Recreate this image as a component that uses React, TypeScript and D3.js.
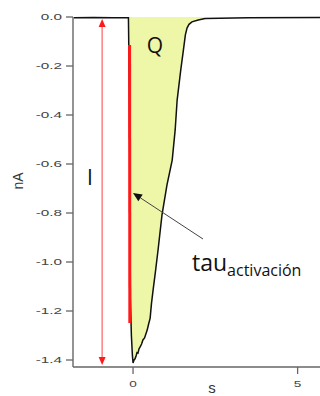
import React from "react";
import * as d3 from "d3";

// ---- data ----
const timeS = [
  -1.8, -1.2, -0.6, -0.14, -0.13, -0.115, -0.1, -0.09, -0.08, -0.05, -0.02, 0.0,
  0.03, 0.06, 0.09, 0.12, 0.15, 0.18, 0.22, 0.26, 0.3, 0.35, 0.4, 0.43, 0.47,
  0.52, 0.56, 0.61, 0.68, 0.76, 0.88, 1.03, 1.19, 1.28, 1.34, 1.45, 1.53,
  1.59, 1.64, 1.7, 1.79, 1.98, 2.19, 3.5, 5.68,
];
const currentNA = [
  -0.003, -0.002, -0.003, -0.003, -0.11, -0.3, -0.6, -0.9, -1.15, -1.3, -1.38, -1.412,
  -1.40, -1.395, -1.385, -1.37, -1.372, -1.355, -1.345, -1.335, -1.318, -1.31, -1.29, -1.278, -1.255,
  -1.229, -1.17, -1.114, -1.04, -0.951, -0.808, -0.686, -0.584, -0.461, -0.339, -0.216, -0.135,
  -0.073, -0.045, -0.03, -0.02, -0.012, -0.006, -0.003, -0.002,
];
// fitted activation (red) segment
const tauTime = [-0.105, -0.098];
const tauValue = [-0.114, -1.249];
// peak current marker (I arrow)
const arrowTime = -0.94;
const arrowRange = [-0.008, -1.42];

const yTicks = [0, -0.2, -0.4, -0.6, -0.8, -1.0, -1.2, -1.4];
const yTickLabels = ["0.0", "-0.2", "-0.4", "-0.6", "-0.8", "-1.0", "-1.2", "-1.4"];
const xTicks = [0, 5];
const xTickLabels = ["0", "5"];

export default function App() {
  const W = 320;
  const H = 396;
  const x = d3.scaleLinear().domain([-1.824, 5.68]).range([73, 320]);
  const y = d3.scaleLinear().domain([0, -1.4]).range([17, 360]);
  const axisY = 367;

  const pts: [number, number][] = timeS.map((t, i) => [t, currentNA[i]]);
  const line = d3
    .line<[number, number]>()
    .x((d) => x(d[0]))
    .y((d) => y(d[1]));
  const area = d3
    .area<[number, number]>()
    .x((d) => x(d[0]))
    .y0(y(0))
    .y1((d) => y(d[1]));
  const fillPts = pts.filter((d) => d[0] >= -0.14 && d[0] <= 2.3);

  const tauPts: [number, number][] = tauTime.map((t, i) => [t, tauValue[i]]);

  const ax = x(arrowTime);
  const aTop = y(arrowRange[0]);
  const aBot = y(arrowRange[1]);

  // tau annotation arrow
  const tx1 = 203, ty1 = 239, tx2 = 133, ty2 = 193;
  const ang = Math.atan2(ty2 - ty1, tx2 - tx1);
  const hl = 9, hw = 4;
  const hx = tx2, hy = ty2;
  const bx = hx - hl * Math.cos(ang), by = hy - hl * Math.sin(ang);
  const head = `M${hx},${hy} L${bx + hw * Math.sin(ang)},${by - hw * Math.cos(ang)} L${bx - hw * Math.sin(ang)},${by + hw * Math.cos(ang)} Z`;

  const tickFont = "'Liberation Sans', Arial, sans-serif";
  const annFont = "'Open Sans', 'Noto Sans', sans-serif";

  return (
    <svg
      width={W}
      height={H}
      style={{ position: "absolute", left: 0, top: 0, background: "#fff" }}
    >
      <rect x={0} y={0} width={W} height={H} fill="#fff" />
      {/* filled charge area */}
      <path d={area(fillPts) || ""} fill="#eef6a8" stroke="none" />
      {/* trace */}
      <path d={line(pts) || ""} fill="none" stroke="#111" strokeWidth={1.5} />
      {/* red activation segment */}
      <path d={line(tauPts) || ""} fill="none" stroke="#ff1a1a" strokeWidth={3} />

      {/* axes */}
      <line x1={73} x2={73} y1={y(0)} y2={axisY} stroke="#666" strokeWidth={1.4} />
      <line x1={73} x2={W} y1={axisY} y2={axisY} stroke="#666" strokeWidth={1.4} />
      {yTicks.map((v, i) => (
        <g key={"y" + i}>
          <line x1={66} x2={73} y1={y(v)} y2={y(v)} stroke="#666" strokeWidth={1.3} />
          <text
            transform={`translate(62,${y(v) + 3}) scale(1.8,1)`}
            textAnchor="end"
            fontFamily={tickFont}
            fontSize={8.5}
            fill="#444"
          >
            {yTickLabels[i]}
          </text>
        </g>
      ))}
      {xTicks.map((v, i) => (
        <g key={"x" + i}>
          <line x1={x(v)} x2={x(v)} y1={axisY} y2={axisY + 7} stroke="#666" strokeWidth={1.3} />
          <text
            transform={`translate(${x(v)},${386.5}) scale(1.6,1)`}
            textAnchor="middle"
            fontFamily={tickFont}
            fontSize={8.5}
            fill="#444"
          >
            {xTickLabels[i]}
          </text>
        </g>
      ))}
      <text
        transform="translate(23,181) rotate(-90)"
        textAnchor="middle"
        fontFamily={tickFont}
        fontSize={14}
        fill="#333"
      >
        nA
      </text>
      <text x={212} y={393} textAnchor="middle" fontFamily={tickFont} fontSize={15} fill="#333">
        s
      </text>

      {/* I arrow */}
      <line x1={ax} x2={ax} y1={aTop + 6} y2={aBot - 6} stroke="#ff4040" strokeWidth={1} />
      <path d={`M${ax},${aTop} L${ax - 3.5},${aTop + 8} L${ax + 3.5},${aTop + 8} Z`} fill="#ff1a1a" />
      <path d={`M${ax},${aBot} L${ax - 3.5},${aBot - 8} L${ax + 3.5},${aBot - 8} Z`} fill="#ff1a1a" />
      <text x={90} y={185} textAnchor="middle" fontFamily={annFont} fontSize={21} fill="#111">
        I
      </text>

      {/* Q label */}
      <text x={155} y={53} textAnchor="middle" fontFamily={annFont} fontSize={21} fill="#111">
        Q
      </text>

      {/* tau annotation */}
      <line x1={tx1} y1={ty1} x2={bx} y2={by} stroke="#444" strokeWidth={1} />
      <path d={head} fill="#111" />
      <text x={192} y={271} fontFamily={annFont} fontSize={23} fill="#111">
        tau
        <tspan fontSize={16} dy={5}>
          activación
        </tspan>
      </text>
    </svg>
  );
}
